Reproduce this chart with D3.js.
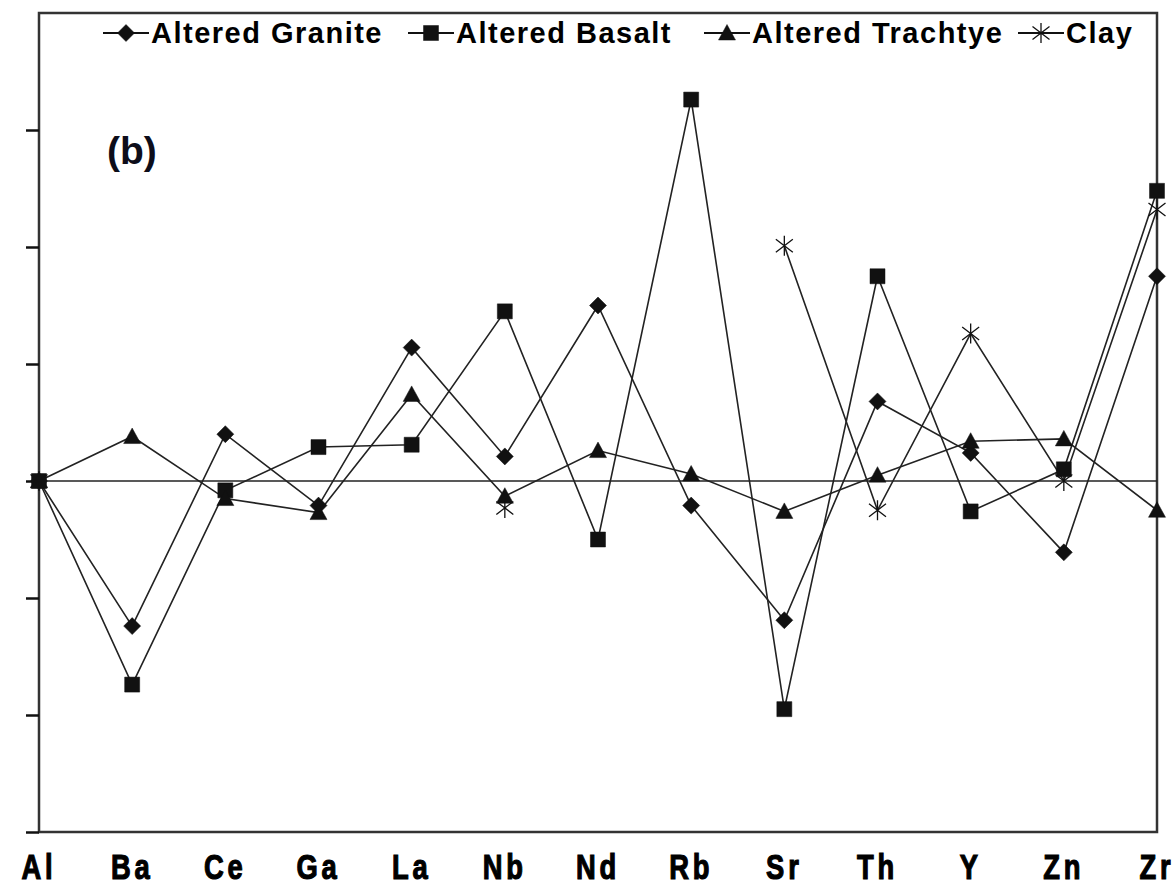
<!DOCTYPE html>
<html>
<head>
<meta charset="utf-8">
<script src="https://cdn.jsdelivr.net/npm/d3@7"></script>
<style>
  html, body { margin: 0; padding: 0; background: #fff; }
  svg { display: block; }
</style>
</head>
<body>
<svg id="chart" width="1174" height="887"></svg>
<script>
// Trace elements normalised against Al
const elements = ["Al", "Ba", "Ce", "Ga", "La", "Nb", "Nd", "Rb", "Sr", "Th", "Y", "Zn", "Zr"];

const alteredGranite   = [0, -1.24, 0.40, -0.21, 1.14, 0.21, 1.50, -0.21, -1.19, 0.68, 0.24, -0.61, 1.75];
const alteredBasalt    = [0, -1.74, -0.08, 0.29, 0.31, 1.45, -0.50, 3.26, -1.95, 1.75, -0.26, 0.10, 2.48];
const alteredTrachtye  = [0, 0.38, -0.15, -0.27, 0.74, -0.13, 0.26, 0.06, -0.26, 0.05, 0.34, 0.36, -0.25];
const clay             = [0, null, null, null, null, -0.23, null, null, 2.01, -0.25, 1.26, 0, 2.32];

const yTicks = [-3, -2, -1, 0, 1, 2, 3];
const seriesNames = ["Altered Granite", "Altered Basalt", "Altered Trachtye", "Clay"];

const series = [
  { name: seriesNames[0], values: alteredGranite,  marker: "diamond" },
  { name: seriesNames[1], values: alteredBasalt,   marker: "square" },
  { name: seriesNames[2], values: alteredTrachtye, marker: "triangle" },
  { name: seriesNames[3], values: clay,            marker: "star" }
];

const svg = d3.select("#chart");
const plotLeft = 39, plotRight = 1157, plotTop = 13, plotBottom = 832;
const ink = "#111";

const x = d3.scalePoint().domain(elements).range([plotLeft, plotRight]);
const y = d3.scaleLinear().domain([-3, 4]).range([plotBottom, plotTop]);

// marker shapes
function markerPath(type) {
  switch (type) {
    case "diamond": return "M0,-8.5L8.5,0L0,8.5L-8.5,0Z";
    case "square": return "M-7.5,-7.5H7.5V7.5H-7.5Z";
    case "triangle": return "M0,-8.5L8.5,7L-8.5,7Z";
    case "star": return "M0,-10V10M-8.5,-6.5L8.5,6.5M-8.5,6.5L8.5,-6.5";
  }
}
function drawMarker(g, type, cx, cy) {
  const isStar = type === "star";
  g.append("path")
    .attr("d", markerPath(type))
    .attr("transform", `translate(${cx},${cy})`)
    .attr("fill", isStar ? "none" : ink)
    .attr("stroke", ink)
    .attr("stroke-width", isStar ? 1.3 : 0.5);
}

// plot frame
svg.append("rect")
  .attr("x", plotLeft).attr("y", plotTop)
  .attr("width", plotRight - plotLeft).attr("height", plotBottom - plotTop)
  .attr("fill", "none").attr("stroke", "#333").attr("stroke-width", 2.5);

// y axis ticks (no labels)
const yAxis = d3.axisLeft(y).tickValues(yTicks).tickFormat("").tickSize(13).tickSizeOuter(0);
svg.append("g")
  .attr("transform", `translate(${plotLeft},0)`)
  .call(yAxis)
  .call(g => g.select(".domain").remove())
  .call(g => g.selectAll(".tick line").attr("stroke", ink).attr("stroke-width", 2.5));

// zero reference line
svg.append("line")
  .attr("x1", plotLeft).attr("x2", plotRight)
  .attr("y1", y(0)).attr("y2", y(0))
  .attr("stroke", "#222").attr("stroke-width", 1.6);

// x category labels (heavy, condensed)
const xAxisG = svg.append("g");
elements.forEach(el => {
  xAxisG.append("text")
    .attr("transform", `translate(${x(el)},879) scale(0.76,1)`)
    .attr("text-anchor", "middle")
    .attr("font-family", "Liberation Sans, Arial, sans-serif")
    .attr("font-weight", "bold")
    .attr("font-size", 36)
    .attr("letter-spacing", 5)
    .attr("fill", "#000")
    .attr("stroke", "#000")
    .attr("stroke-width", 1.2)
    .text(el);
});

// series lines and markers
const line = d3.line()
  .defined(d => d.v !== null)
  .x(d => x(d.el))
  .y(d => y(d.v));

const plotG = svg.append("g");
series.forEach(s => {
  const pts = elements.map((el, i) => ({ el, v: s.values[i] }));
  plotG.append("path")
    .datum(pts)
    .attr("d", line)
    .attr("fill", "none")
    .attr("stroke", "#222")
    .attr("stroke-width", 1.6);
});
series.forEach(s => {
  const mg = plotG.append("g");
  elements.forEach((el, i) => {
    if (s.values[i] !== null) drawMarker(mg, s.marker, x(el), y(s.values[i]));
  });
});

// panel label
svg.append("text")
  .attr("x", 107).attr("y", 164)
  .attr("font-family", "Liberation Sans, Arial, sans-serif")
  .attr("font-weight", "bold")
  .attr("font-size", 39)
  .attr("fill", "#0d0d1a")
  .text("(b)");

// legend
const legendItems = [
  { s: series[0], x0: 103 },
  { s: series[1], x0: 408 },
  { s: series[2], x0: 704 },
  { s: series[3], x0: 1018 }
];
const legend = svg.append("g");
const ly = 33;
legendItems.forEach(item => {
  legend.append("line")
    .attr("x1", item.x0).attr("x2", item.x0 + 46)
    .attr("y1", ly).attr("y2", ly)
    .attr("stroke", ink).attr("stroke-width", 1.8);
  drawMarker(legend, item.s.marker, item.x0 + 23, ly);
  legend.append("text")
    .attr("x", item.x0 + 48).attr("y", ly + 10)
    .attr("font-family", "Liberation Sans, Arial, sans-serif")
    .attr("font-weight", "bold")
    .attr("font-size", 29)
    .attr("letter-spacing", 1.5)
    .attr("fill", "#000")
    .text(item.s.name);
});
</script>
</body>
</html>
